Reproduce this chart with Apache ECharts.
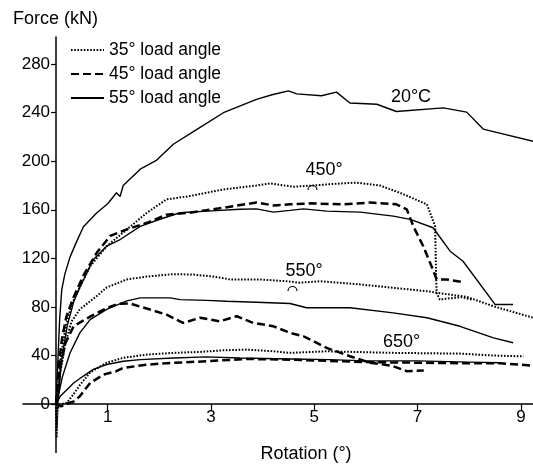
<!DOCTYPE html>
<html>
<head>
<meta charset="utf-8">
<script src="https://cdn.jsdelivr.net/npm/echarts@6/dist/echarts.min.js"></script>
<style>
html,body{margin:0;padding:0;background:#fff;}
#chart{width:533px;height:466px;}
</style>
</head>
<body>
<div id="chart"></div>
<script>
// ---- data (rotation in degrees, force in kN) ----
const legendNames = ['35° load angle', '45° load angle', '55° load angle'];
const xTicks = [1, 3, 5, 7, 9];
const yTicks = [0, 40, 80, 120, 160, 200, 240, 280];
const tempLabels = ['20°C', '450°', '550°', '650°'];

const s55_20 = [[0,0],[0.03,30],[0.07,70],[0.11,94],[0.17,107],[0.27,121],[0.40,134],[0.53,146],[0.79,157.5],[1.0,165],[1.17,174],[1.24,171],[1.30,180],[1.63,193.5],[1.95,201],[2.27,214],[2.72,226],[3.24,240],[3.88,251],[4.20,255],[4.50,258],[4.66,255.5],[5.14,254],[5.43,257],[5.69,248],[6.21,247],[6.59,241],[7.50,244],[7.95,240.5],[8.27,226.5],[9.24,216.5]];

const d35_450 = [[0,0],[0.01,-28],[0.03,0],[0.08,35],[0.18,62],[0.30,82],[0.40,91],[0.66,113.5],[0.98,130],[1.37,143.8],[1.76,157.6],[2.14,168.6],[2.59,171.3],[3.24,176.8],[3.88,180],[4.14,181.8],[4.59,179],[4.98,180],[5.50,181.7],[5.82,182.4],[6.27,180],[6.66,174],[7.18,164.5],[7.34,146.4],[7.36,102.6],[7.37,91.3],[7.43,86],[7.60,87],[7.85,88],[8.05,86]];
const d45_450 = [[0,0],[0.02,10],[0.06,35],[0.12,55],[0.20,72],[0.34,88],[0.53,106],[0.79,124.7],[1.05,138.5],[1.37,143.8],[1.76,149.3],[2.14,156],[2.59,157.6],[3.24,161.7],[3.88,166],[4.21,163.6],[4.53,164.5],[4.92,165.3],[5.56,164.5],[6.08,166],[6.59,164.5],[6.79,160.4],[6.92,146.3],[7.11,130],[7.27,113.5],[7.37,102.6],[7.56,102.6],[7.88,100.4]];
const s55_450 = [[0,0],[0.05,12],[0.12,40],[0.22,65],[0.34,84],[0.46,96],[0.72,118.8],[0.98,130],[1.24,135.5],[1.63,146.3],[2.01,152.2],[2.40,157.6],[2.92,158.9],[3.56,160.4],[3.88,160.8],[4.21,158.1],[4.53,159.5],[4.79,160.8],[5.24,158.9],[5.89,158.1],[6.53,154.8],[6.86,152.1],[7.30,145.2],[7.63,125.9],[7.88,117.6],[8.50,82],[8.85,82]];

const d35_550 = [[0,0],[0.01,-22],[0.03,0],[0.08,25],[0.18,50],[0.30,68],[0.46,78],[0.79,89],[0.98,96],[1.37,102.6],[1.76,105],[2.27,107],[2.66,106.6],[3.04,105],[3.37,102.6],[3.95,102.6],[4.47,101.1],[4.72,99.9],[5.11,101.1],[5.89,98.5],[6.53,95.7],[7.18,92.9],[7.37,91.6],[7.95,88.3],[8.47,80.5],[9.24,71]];
const d45_550 = [[0,0],[0.03,12],[0.08,30],[0.18,50],[0.34,64],[0.66,72],[0.98,79],[1.20,82.5],[1.43,82.8],[1.82,77.8],[2.14,73.6],[2.46,66.8],[2.79,71],[3.17,68.1],[3.50,72.3],[3.82,66.8],[4.21,64],[4.53,58.6],[4.79,55.8],[5.24,46.2],[5.69,39.3],[6.08,34],[6.50,31.5],[6.79,27],[7.12,27.5]];
const s55_550 = [[0,0],[0.05,8],[0.12,22],[0.27,42],[0.46,58.6],[0.66,69.5],[0.98,78],[1.37,85],[1.63,87.4],[2.21,87.4],[2.40,86],[2.92,85.4],[3.30,84.6],[3.88,83.8],[4.53,82.8],[4.85,79.3],[5.69,79.3],[6.53,75.1],[7.18,71],[7.82,64],[8.47,54.5],[8.85,50.4]];

const d35_650 = [[0,0],[0.05,-3],[0.12,0],[0.21,1],[0.34,8],[0.46,15.5],[0.66,26],[0.98,34],[1.30,38],[1.76,40.7],[2.27,42.1],[2.79,42.9],[3.24,44.2],[3.69,44.8],[4.21,43.4],[4.53,42.1],[5.24,43.4],[6.53,42.1],[7.82,41.5],[8.47,39.9],[9.05,39.2]];
const d45_650 = [[0,0],[0.10,-2],[0.20,0],[0.34,2],[0.46,6.3],[0.66,17.3],[0.92,24.2],[1.17,27],[1.30,29.7],[1.76,32.4],[2.27,33.9],[2.92,35.2],[3.69,37.1],[4.53,36.5],[5.30,35.5],[6.00,34.5],[7.00,34],[8.00,33.5],[8.60,33.5],[9.24,31.6]];
const s55_650 = [[0,0],[0.08,6.3],[0.21,11.8],[0.34,17.3],[0.53,23],[0.72,28.5],[0.98,32.5],[1.30,35.2],[1.63,36.5],[2.27,37.9],[2.92,38.8],[3.56,37.9],[4.53,37.1],[5.30,36.5],[6.00,35.5],[7.00,35.5],[8.00,34.5],[8.60,34]];

// ---- styles ----
const FONT = 'Liberation Sans';
const styles = {
  '35° load angle': {color:'#000', width:2, type:[1.6,1.6]},
  '45° load angle': {color:'#000', width:2.5, type:[8,4]},
  '55° load angle': {color:'#000', width:1.4, type:'solid'}
};
function mk(name, data){
  return {
    name: name, type:'line', data: data, symbol:'none', showSymbol:false, smooth:false,
    lineStyle: styles[name], itemStyle:{color:'#000'}, animation:false, z:3
  };
}

const X_MIN = -0.64, X_MAX = 9.235, Y_MIN = -40, Y_MAX = 302.4;
const G_LEFT = 23, G_RIGHT = 0, G_TOP = 37, G_BOTTOM = 13.5;
const W = 533, H = 466;
const gw = W - G_LEFT - G_RIGHT, gh = H - G_TOP - G_BOTTOM;
const xZeroOffset = -(0 - X_MIN) / (X_MAX - X_MIN) * gw;   // move y axis to x=0
const yZeroOffset = -(0 - Y_MIN) / (Y_MAX - Y_MIN) * gh;   // move x axis to y=0

const chart = echarts.init(document.getElementById('chart'), null, {renderer:'canvas'});
chart.setOption({
  animation:false,
  backgroundColor:'#fff',
  grid:{left:G_LEFT, right:G_RIGHT, top:G_TOP, bottom:G_BOTTOM, outerBoundsMode:'none', containLabel:false},
  legend:{
    data: legendNames, orient:'vertical', left:70, top:41, padding:0,
    itemWidth:33, itemHeight:14, itemGap:6,
    itemStyle:{opacity:0},
    textStyle:{color:'#000', fontSize:17.5, lineHeight:18, fontFamily:FONT}
  },
  xAxis:{
    type:'value', min:X_MIN, max:X_MAX, position:'bottom', offset:yZeroOffset,
    axisLine:{onZero:false, lineStyle:{color:'#000', width:1.5}},
    axisTick:{customValues:xTicks, length:7, lineStyle:{color:'#000', width:1.2}},
    axisLabel:{customValues:xTicks, color:'#000', fontSize:17, fontFamily:FONT, margin:5},
    splitLine:{show:false}
  },
  yAxis:{
    type:'value', min:Y_MIN, max:Y_MAX, position:'left', offset:xZeroOffset,
    axisLine:{onZero:false, lineStyle:{color:'#000', width:1.5}},
    axisTick:{customValues:yTicks, length:5, lineStyle:{color:'#000', width:1.2}},
    axisLabel:{customValues:yTicks, color:'#000', fontSize:17, fontFamily:FONT, margin:6},
    splitLine:{show:false}
  },
  graphic:[
    {type:'text', left:13, top:10, style:{text:'Force (kN)', fill:'#000', font:'18px "Liberation Sans"'}},
    {type:'text', x:306, y:454, style:{text:'Rotation (°)', fill:'#000', font:'18px "Liberation Sans"', textAlign:'center', textVerticalAlign:'middle'}},
    {type:'text', x:411, y:97, style:{text:tempLabels[0], fill:'#000', font:'18px "Liberation Sans"', textAlign:'center', textVerticalAlign:'middle'}},
    {type:'text', x:324, y:170.5, style:{text:tempLabels[1], fill:'#000', font:'18px "Liberation Sans"', textAlign:'center', textVerticalAlign:'middle'}},
    {type:'text', x:304, y:271, style:{text:tempLabels[2], fill:'#000', font:'18px "Liberation Sans"', textAlign:'center', textVerticalAlign:'middle'}},
    {type:'text', x:401.5, y:342.5, style:{text:tempLabels[3], fill:'#000', font:'18px "Liberation Sans"', textAlign:'center', textVerticalAlign:'middle'}},
    {type:'arc', shape:{cx:312.5, cy:190, r:4.5, startAngle:Math.PI, endAngle:2*Math.PI}, style:{stroke:'#000', fill:null, lineWidth:1.2}},
    {type:'arc', shape:{cx:292.5, cy:291, r:4.5, startAngle:Math.PI, endAngle:2*Math.PI}, style:{stroke:'#000', fill:null, lineWidth:1.2}}
  ],
  series:[
    mk('55° load angle', s55_20),
    mk('35° load angle', d35_450),
    mk('45° load angle', d45_450),
    mk('55° load angle', s55_450),
    mk('35° load angle', d35_550),
    mk('45° load angle', d45_550),
    mk('55° load angle', s55_550),
    mk('35° load angle', d35_650),
    mk('45° load angle', d45_650),
    mk('55° load angle', s55_650)
  ]
});
</script>
</body>
</html>
